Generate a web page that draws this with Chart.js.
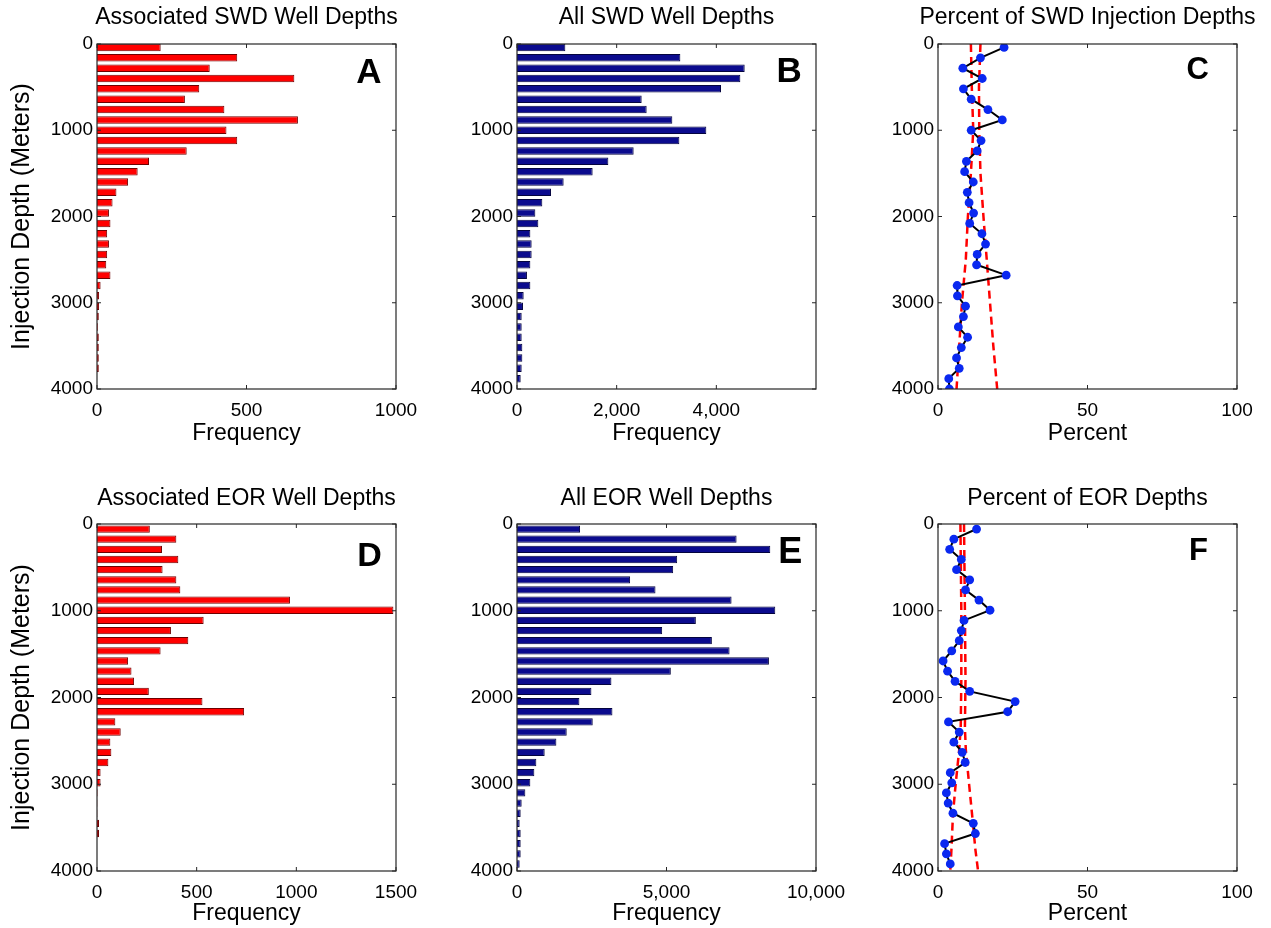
<!DOCTYPE html>
<html><head><meta charset="utf-8">
<script src="https://cdn.jsdelivr.net/npm/chart.js@4.4.1/dist/chart.umd.min.js"></script>
<style>
html,body{margin:0;padding:0;background:#fff;}
#wrap{position:relative;width:1271px;height:928px;overflow:hidden;background:#fff;}
canvas{position:absolute;}
</style></head><body><div id="wrap">
<canvas id="cA" width="460" height="464" style="left:0px;top:0px"></canvas>
<canvas id="cB" width="460" height="464" style="left:420px;top:0px"></canvas>
<canvas id="cC" width="460" height="464" style="left:841px;top:0px"></canvas>
<canvas id="cD" width="460" height="464" style="left:0px;top:464px"></canvas>
<canvas id="cE" width="460" height="464" style="left:420px;top:464px"></canvas>
<canvas id="cF" width="460" height="464" style="left:841px;top:464px"></canvas>
</div>
<script>
// ---------- data ----------
const depthTop = [40,160,280,400,520,640,760,880,1000,1120,1240,1360,1480,1600,1720,1840,1960,2080,2200,2320,2440,2560,2680,2800,2920,3040,3160,3280,3400,3520,3640,3760,3880,4000];
const depthBottom = [58,175,292,409,526,643,760,877,994,1111,1228,1345,1462,1579,1696,1813,1930,2047,2164,2281,2398,2515,2632,2749,2866,2983,3100,3217,3334,3451,3568,3685,3802,3919];

const assocSWD = [213,469,377,660,342,294,426,672,433,469,300,174,136,104,65,52,40,45,34,40,34,31,45,12,7,7,6,3,6,6,6,6,0,0];
const allSWD = [970,3278,4569,4482,4094,2502,2602,3117,3799,3258,2341,1833,1518,936,682,508,368,428,268,294,294,268,200,268,134,120,94,94,94,107,107,94,74,0];
const pctSWD = [22.1,14.2,8.3,14.8,8.5,11.1,16.7,21.5,11.1,14.4,13.1,9.5,8.9,11.8,9.8,10.4,11.9,10.6,14.7,15.9,13.1,12.9,22.8,6.4,6.5,9.2,8.5,6.8,9.9,7.8,6.2,7.1,3.6,3.8];

const assocEOR = [265,398,326,408,329,398,418,968,1487,535,371,458,319,156,173,186,260,529,738,92,119,67,72,57,18,18,3,2,2,10,10,0,0,0];
const allEOR = [2109,7344,8471,5357,5223,3783,4632,7176,8638,5982,4855,6518,7109,8426,5145,3158,2489,2087,3192,2533,1663,1317,926,647,580,446,279,156,123,89,123,123,123,89];
const pctEOR = [12.9,5.3,3.9,7.8,6.2,10.6,9.2,13.7,17.4,8.7,7.8,7.1,4.6,1.7,3.2,5.7,10.6,25.8,23.3,3.5,7.1,5.3,8.1,9.1,4.1,4.6,2.8,3.4,5.0,11.8,12.5,2.2,2.8,4.1];

const cBoundDepth = [0,500,1000,1500,2000,2500,3000,3500,4000];
const cLowPct  = [11.0,11.3,11.8,11.0,10.0,9.3,8.0,7.1,6.2];
const cHighPct = [14.2,13.7,13.8,14.2,15.2,16.3,17.4,18.5,19.8];
const fBoundDepth = [0,1000,1800,2350,2600,3000,3350,3750,4000];
const fLowPct  = [7.5,7.8,7.8,7.6,7.1,5.9,5.0,4.5,4.1];
const fHighPct = [8.7,9.0,9.2,9.0,9.3,10.4,11.4,12.5,13.4];

const yTickValues = [0,1000,2000,3000,4000];
const yTickLabels = ['0','1000','2000','3000','4000'];
const xTicksA = [0,500,1000], xLabelsA = ['0','500','1000'];
const xTicksB = [0,2000,4000], xLabelsB = ['0','2,000','4,000'];
const xTicksPct = [0,50,100], xLabelsPct = ['0','50','100'];
const xTicksD = [0,500,1000,1500], xLabelsD = ['0','500','1000','1500'];
const xTicksE = [0,5000,10000], xLabelsE = ['0','5,000','10,000'];

// ---------- helpers ----------
const FONT = "'Liberation Sans', Arial, Helvetica, sans-serif";
Chart.defaults.font.family = FONT;
Chart.defaults.color = '#000';
const TICK = 19, LABEL = 23, YLABEL = 25;

const framePlugin = {
  id: 'frame',
  afterDraw(chart, args, o) {
    const {ctx, chartArea: a} = chart;
    const xs = chart.scales.x, ys = chart.scales.y;
    ctx.save();
    ctx.strokeStyle = '#262626';
    ctx.lineWidth = 1.2;
    ctx.strokeRect(a.left, a.top, a.right - a.left, a.bottom - a.top);
    ctx.lineWidth = 1;
    ctx.beginPath();
    const L = 4;
    xs.ticks.forEach(t => {
      const p = xs.getPixelForValue(t.value);
      ctx.moveTo(p, a.bottom); ctx.lineTo(p, a.bottom - L);
      ctx.moveTo(p, a.top); ctx.lineTo(p, a.top + L);
    });
    ys.ticks.forEach(t => {
      const p = ys.getPixelForValue(t.value);
      ctx.moveTo(a.left, p); ctx.lineTo(a.left + L, p);
      ctx.moveTo(a.right, p); ctx.lineTo(a.right - L, p);
    });
    ctx.stroke();
    ctx.fillStyle = '#000';
    // panel title centred over the plot area
    ctx.font = LABEL + 'px ' + FONT;
    ctx.textAlign = 'center';
    ctx.textBaseline = 'middle';
    ctx.fillText(o.title, (a.left + a.right) / 2, o.titleY);
    // panel letter
    ctx.font = 'bold ' + o.size + 'px ' + FONT;
    ctx.textAlign = 'right';
    ctx.textBaseline = 'alphabetic';
    ctx.fillText(o.letter, a.right - o.dx, a.top + o.dy);
    ctx.restore();
  }
};

const rows = {
  top:    {areaTop: 44, titleY: 18, xHeight: 75, xTitlePad: 16.2},
  bottom: {areaTop: 60, titleY: 35, xHeight: 57, xTitlePad: 0.2}
};

function yScale(showTitle) {
  return {
    type: 'linear', reverse: true, min: 0, max: 4000, offset: false,
    grid: {display: false, drawTicks: false}, border: {display: false},
    afterBuildTicks: s => { s.ticks = yTickValues.map(v => ({value: v})); },
    ticks: {font: {size: TICK}, padding: 4, autoSkip: false, callback: (v, i) => yTickLabels[i]},
    title: {display: showTitle, text: 'Injection Depth (Meters)', font: {size: YLABEL}, padding: {top: 7, bottom: 0}},
    afterFit: s => { s.width = 97; s.paddingTop = 0; s.paddingBottom = 0; }
  };
}

function xScale(max, vals, labels, title, row) {
  return {
    type: 'linear', min: 0, max: max, position: 'bottom', offset: false,
    grid: {display: false, drawTicks: false}, border: {display: false},
    afterBuildTicks: s => { s.ticks = vals.map(v => ({value: v})); },
    ticks: {font: {size: TICK}, padding: 10, autoSkip: false, maxRotation: 0, minRotation: 0, callback: (v, i) => labels[i]},
    title: {display: true, text: title, font: {size: LABEL}, padding: {top: 0, bottom: row.xTitlePad}},
    afterFit: s => { s.height = row.xHeight; s.paddingLeft = 0; s.paddingRight = 0; }
  };
}

function makeChart(id, type, datasets, xs, row, showYTitle, titleText, letter) {
  letter.title = titleText;
  letter.titleY = row.titleY;
  return new Chart(document.getElementById(id), {
    type: type,
    data: {datasets: datasets},
    options: {
      responsive: false, animation: false, devicePixelRatio: 1,
      indexAxis: type === 'bar' ? 'y' : 'x',
      layout: {padding: {left: 0, right: 64, top: row.areaTop, bottom: 0}},
      plugins: {
        legend: {display: false}, tooltip: {enabled: false}, title: {display: false},
        frame: letter
      },
      scales: {x: xs, y: yScale(showYTitle)}
    },
    plugins: [framePlugin]
  });
}

function barSet(values, depths, fill, edge) {
  return {
    data: values.map((v, i) => ({x: v, y: depths[i]})),
    backgroundColor: fill, borderColor: edge, borderWidth: 1,
    categoryPercentage: 1, barPercentage: 0.72
  };
}

function pctSets(pcts, depths, bDepth, low, high) {
  return [
    {data: pcts.map((v, i) => ({x: v, y: depths[i]})), showLine: true,
     borderColor: '#000', borderWidth: 2, pointRadius: 4.4,
     pointBackgroundColor: '#0a28f0', pointBorderWidth: 0},
    {data: low.map((v, i) => ({x: v, y: bDepth[i]})), showLine: true,
     borderColor: '#ff0000', borderWidth: 2.5, borderDash: [8, 5], pointRadius: 0},
    {data: high.map((v, i) => ({x: v, y: bDepth[i]})), showLine: true,
     borderColor: '#ff0000', borderWidth: 2.5, borderDash: [8, 5], pointRadius: 0}
  ];
}

const RED = '#ff0000', RED_EDGE = '#6e0000';
const BLUE = '#0b0b8e', BLUE_EDGE = '#04043f';

makeChart('cA', 'bar', [barSet(assocSWD, depthTop, RED, RED_EDGE)],
  xScale(1000, xTicksA, xLabelsA, 'Frequency', rows.top), rows.top, true,
  'Associated SWD Well Depths', {letter: 'A', size: 35, dx: 14.5, dy: 39.3});
makeChart('cB', 'bar', [barSet(allSWD, depthTop, BLUE, BLUE_EDGE)],
  xScale(6000, xTicksB, xLabelsB, 'Frequency', rows.top), rows.top, false,
  'All SWD Well Depths', {letter: 'B', size: 35, dx: 14.3, dy: 37.7});
makeChart('cC', 'scatter', pctSets(pctSWD, depthTop, cBoundDepth, cLowPct, cHighPct),
  xScale(100, xTicksPct, xLabelsPct, 'Percent', rows.top), rows.top, false,
  'Percent of SWD Injection Depths', {letter: 'C', size: 31, dx: 28, dy: 35});
makeChart('cD', 'bar', [barSet(assocEOR, depthBottom, RED, RED_EDGE)],
  xScale(1500, xTicksD, xLabelsD, 'Frequency', rows.bottom), rows.bottom, true,
  'Associated EOR Well Depths', {letter: 'D', size: 34, dx: 14.3, dy: 41.7});
makeChart('cE', 'bar', [barSet(allEOR, depthBottom, BLUE, BLUE_EDGE)],
  xScale(10000, xTicksE, xLabelsE, 'Frequency', rows.bottom), rows.bottom, false,
  'All EOR Well Depths', {letter: 'E', size: 36, dx: 13.7, dy: 39.3});
makeChart('cF', 'scatter', pctSets(pctEOR, depthBottom, fBoundDepth, fLowPct, fHighPct),
  xScale(100, xTicksPct, xLabelsPct, 'Percent', rows.bottom), rows.bottom, false,
  'Percent of EOR Depths', {letter: 'F', size: 31, dx: 29, dy: 36});
</script>
</body></html>
